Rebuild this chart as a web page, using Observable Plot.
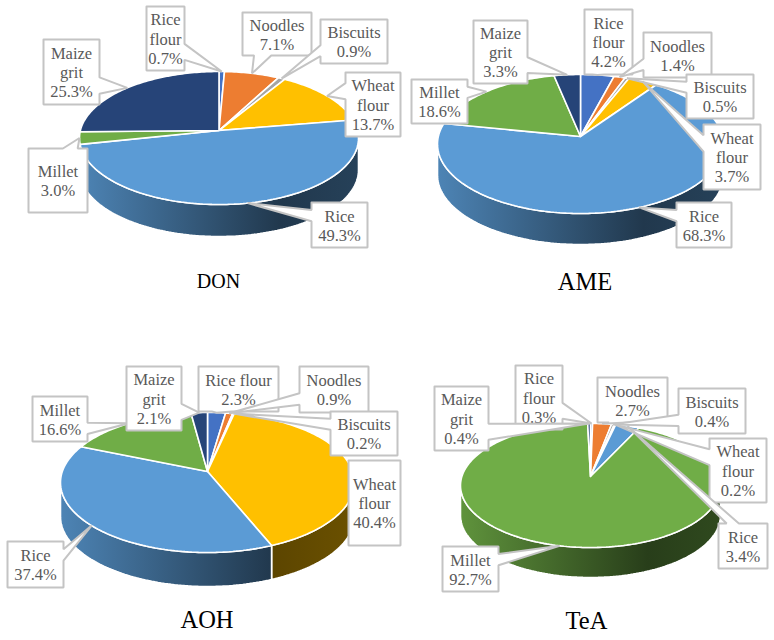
<!DOCTYPE html>
<html>
<head>
<meta charset="utf-8">
<script src="https://cdn.jsdelivr.net/npm/d3@7"></script>
<script src="https://cdn.jsdelivr.net/npm/@observablehq/plot@0.6"></script>
<style>
html,body{margin:0;padding:0;background:#fff;}
svg{display:block;}
</style>
</head>
<body>
<div id="chart"></div>
<script>
// ---- data (percent, clockwise from 12 o'clock) ----
const categories = ["Rice flour", "Noodles", "Biscuits", "Wheat flour", "Rice", "Millet", "Maize grit"];
const labelLines = ["Rice\nflour", "Noodles", "Biscuits", "Wheat\nflour", "Rice", "Millet", "Maize\ngrit"];
const don = [0.7, 7.1, 0.9, 13.7, 49.3, 3.0, 25.3];
const ame = [4.2, 1.4, 0.5, 3.7, 68.3, 18.6, 3.3];
const aoh = [2.3, 0.9, 0.2, 40.4, 37.4, 16.6, 2.1];
const tea = [0.3, 2.7, 0.4, 0.2, 3.4, 92.7, 0.4];
const pieNames = ["DON", "AME", "AOH", "TeA"];

// ---- styles ----
const colors = ["#4472C4", "#ED7D31", "#A5A5A5", "#FFC000", "#5B9BD5", "#70AD47", "#264478"];
const serif = "'Liberation Serif','Times New Roman',serif";

// ---- layout (px): pie centre, half-widths above/below, depth ----
const pieLayout = [
  {cx: 218.5, cy: 130, hw: 139.5, top: 59, bottom: 74, depth: 32, tx: 218, ty: 287, fs: 20},
  {cx: 580,   cy: 136, hw: 143,   top: 62, bottom: 77, depth: 31, tx: 584.5, ty: 289, fs: 24.5},
  {cx: 207,   cy: 471, hw: 147,   top: 59, bottom: 81, depth: 34, tx: 206.5, ty: 627, fs: 24.5},
  {cx: 590,   cy: 476, hw: 130,   top: 53, bottom: 71, depth: 30, tx: 586, ty: 628, fs: 24.5}
];
// label boxes [x0, y0, x1, y1] per category
const boxes = [
  [[146,6,184,70],[242,12,311,55],[320,19,387,63],[345,72,400,136],[311,202,367,247],[28,148,87,212],[43,39,99,104]],
  [[584,9,632,74],[643,32,711,77],[686,74,753,118],[703,124,760,189],[676,202,731,247],[411,79,467,123],[473,20,527,83]],
  [[198,366,278,411],[299,366,368,412],[330,411,397,455],[348,460,400,545],[7,541,63,587],[32,396,87,441],[126,366,181,430]],
  [[515,365,562,429],[597,377,667,422],[678,388,745,433],[709,438,766,502],[718,523,767,568],[442,546,498,591],[434,386,488,450]]
];

// ---- geometry helpers ----
function projector(p) {
  const k = (p.bottom - p.top) / (p.bottom + p.top);
  const ry = p.top * (1 + k);
  const rx = p.hw * Math.sqrt(1 - k * k);
  const at = (a, dz = 0) => {
    const u = Math.sin(a), v = Math.cos(a), w = 1 + k * v;
    return {x: p.cx + rx * u / w, y: p.cy - ry * v / w + dz};
  };
  return {k, at};
}
function arc(at, a0, a1, dz = 0) {
  const n = Math.max(2, Math.ceil(Math.abs(a1 - a0) / 0.02));
  return d3.range(n + 1).map(i => at(a0 + (a1 - a0) * i / n, dz));
}
function callout([x0, y0, x1, y1], t) {
  const w = x1 - x0, h = y1 - y0, cx = (x0 + x1) / 2, cy = (y0 + y1) / 2;
  const dx = (t.x - cx) / w, dy = (t.y - cy) / h;
  const tl = {x: x0, y: y0}, tr = {x: x1, y: y0}, br = {x: x1, y: y1}, bl = {x: x0, y: y1};
  const inside = t.x > x0 && t.x < x1 && t.y > y0 && t.y < y1;
  if (inside) return [tl, tr, br, bl, tl];
  const f = (neg) => neg ? [2 / 12, 5 / 12] : [7 / 12, 10 / 12];
  if (Math.abs(dx) > Math.abs(dy)) {
    const [a, b] = f(dy < 0);
    const A = {y: y0 + h * a}, B = {y: y0 + h * b};
    if (dx > 0) return [tl, tr, {x: x1, y: A.y}, t, {x: x1, y: B.y}, br, bl, tl];
    return [tl, tr, br, bl, {x: x0, y: B.y}, t, {x: x0, y: A.y}, tl];
  } else {
    const [a, b] = f(dx < 0);
    const A = {x: x0 + w * a}, B = {x: x0 + w * b};
    if (dy > 0) return [tl, tr, br, {x: B.x, y: y1}, t, {x: A.x, y: y1}, bl, tl];
    return [tl, {x: A.x, y: y0}, t, {x: B.x, y: y0}, tr, br, bl, tl];
  }
}

// ---- build marks ----
const defs = d3.create("svg:defs");
const marks = [() => defs.node()];
const shape = (pts, o) => Plot.line(pts, {x: "x", y: "y", curve: "linear", strokeLinejoin: "miter", ...o});
const series = [don, ame, aoh, tea];
const textRows = [];

series.forEach((values, pi) => {
  const p = pieLayout[pi];
  const {k, at} = projector(p);
  const total = d3.sum(values);
  const cum = d3.cumsum(values);
  const ang = i => (i < 0 ? 0 : cum[i]) / total * 2 * Math.PI;
  const visA = Math.acos(-k), visB = 2 * Math.PI - visA;

  // walls
  values.forEach((v, i) => {
    const a0 = Math.max(ang(i - 1), visA), a1 = Math.min(ang(i), visB);
    if (a1 <= a0) return;
    const id = `wall-${pi}-${i}`;
    const base = d3.rgb(colors[i]);
    const mix = f => d3.rgb(base.r * f, base.g * f, base.b * f).formatHex();
    const g = defs.append("linearGradient").attr("id", id).attr("gradientUnits", "userSpaceOnUse")
      .attr("x1", p.cx - p.hw).attr("x2", p.cx + p.hw).attr("y1", 0).attr("y2", 0);
    [[0, 0.85], [0.72, 0.36], [1, 0.42]].forEach(([o, f]) =>
      g.append("stop").attr("offset", o).attr("stop-color", mix(f)));
    const pts = [...arc(at, a0, a1), ...arc(at, a1, a0, p.depth)];
    pts.push(pts[0]);
    marks.push(shape(pts, {fill: `url(#${id})`, stroke: "white", strokeWidth: 1.6}));
  });

  // top faces
  values.forEach((v, i) => {
    const c = {x: p.cx, y: p.cy};
    const pts = [c, ...arc(at, ang(i - 1), ang(i)), c];
    marks.push(shape(pts, {fill: colors[i], stroke: "white", strokeWidth: 1.6}));
  });

  // title
  textRows.push({x: p.tx, y: p.ty, text: pieNames[pi], fs: p.fs});
});

// callouts above all pies
series.forEach((values, pi) => {
  const p = pieLayout[pi];
  const {at} = projector(p);
  const total = d3.sum(values);
  const cum = d3.cumsum(values);
  values.forEach((v, i) => {
    const mid = (cum[i] - v / 2) / total * 2 * Math.PI;
    const b = boxes[pi][i];
    marks.push(shape(callout(b, at(mid)), {fill: "white", stroke: "#c4c4c4", strokeWidth: 2}));
    // one-line "Rice flour" in the wide AOH box
    const wide = b[2] - b[0] > 75;
    const name = wide ? categories[i] : labelLines[i];
    marks.push(Plot.text([{x: (b[0] + b[2]) / 2, y: (b[1] + b[3]) / 2, t: `${name}\n${v.toFixed(1)}%`}], {
      x: "x", y: "y", text: "t", fontFamily: serif, fontSize: 16.5, lineHeight: 1.17,
      fill: "#595959", textAnchor: "middle", lineAnchor: "middle"
    }));
  });
});

textRows.forEach(r => marks.push(Plot.text([r], {
  x: "x", y: "y", text: "text", fontFamily: serif, fontSize: r.fs, fill: "#000",
  textAnchor: "middle", lineAnchor: "bottom"
})));

const chart = Plot.plot({
  width: 774, height: 640, margin: 0,
  style: {background: "#fff"},
  x: {domain: [0, 774], axis: null},
  y: {domain: [640, 0], axis: null},
  marks
});
document.getElementById("chart").append(chart);
</script>
</body>
</html>
